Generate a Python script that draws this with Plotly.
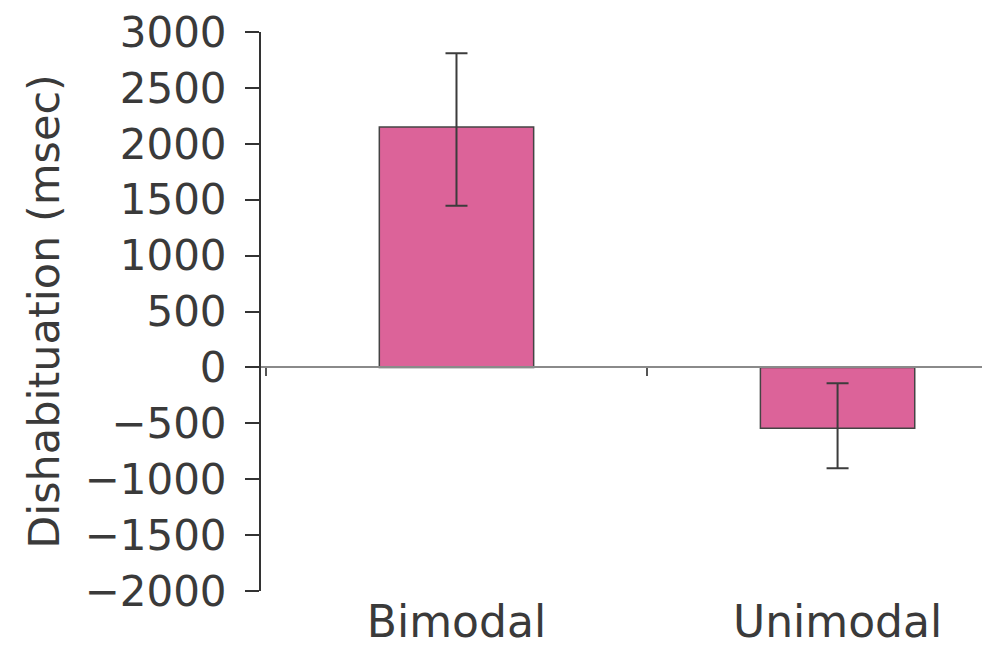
import plotly.graph_objects as go

categories = ["Bimodal", "Unimodal"]
values = [2150, -545]
err_plus = [660, 403]
err_minus = [705, 358]

y_min, y_max = -2000, 3000
tick_step = 500
x_range = [-0.513, 1.379]

font_family = "DejaVu Sans"
text_color = "#3a3a3a"

fig = go.Figure()
fig.add_trace(go.Bar(
    x=categories, y=values, width=0.405,
    marker=dict(color="#DC6399", line=dict(color="#444444", width=1.5)),
    error_y=dict(type="data", symmetric=False, array=err_plus, arrayminus=err_minus,
                 color="#3c3c3c", thickness=2, width=11),
    xaxis="x", yaxis="y", showlegend=False, hoverinfo="skip",
))
# invisible trace to carry the zero-line axis with boundary ticks
fig.add_trace(go.Scatter(
    x=categories, y=[0, 0], mode="markers", marker=dict(opacity=0),
    xaxis="x2", yaxis="y", showlegend=False, hoverinfo="skip",
))

zero_pos = (0 - y_min) / (y_max - y_min)

fig.update_layout(
    width=982, height=650,
    margin=dict(l=261, r=0, t=32, b=59),
    paper_bgcolor="white", plot_bgcolor="white",
    font=dict(family=font_family, color=text_color),
    xaxis=dict(
        type="category", categoryorder="array", categoryarray=categories,
        range=x_range, showline=False, ticks="", showgrid=False, zeroline=False,
        tickfont=dict(size=44, color=text_color), ticklabelstandoff=1,
        automargin=False,
    ),
    xaxis2=dict(
        type="category", categoryorder="array", categoryarray=categories,
        range=x_range, overlaying="x", anchor="free", position=zero_pos, side="bottom",
        showline=True, linecolor="#8a8a8a", linewidth=2,
        ticks="outside", tickson="boundaries", ticklen=8, tickwidth=1.5, tickcolor="#555555",
        showticklabels=False, showgrid=False, zeroline=False, automargin=False,
    ),
    yaxis=dict(
        range=[y_min, y_max], tickmode="linear", tick0=y_min, dtick=tick_step,
        showline=True, linecolor="#333333", linewidth=2,
        ticks="outside", ticklen=14, tickwidth=2, tickcolor="#333333",
        showgrid=False, zeroline=False,
        tickfont=dict(size=42, color=text_color), ticklabelstandoff=10,
        title=dict(text="Dishabituation (msec)", font=dict(size=43, color=text_color), standoff=11),
        automargin=False,
    ),
)

fig.write_html("out.html")
